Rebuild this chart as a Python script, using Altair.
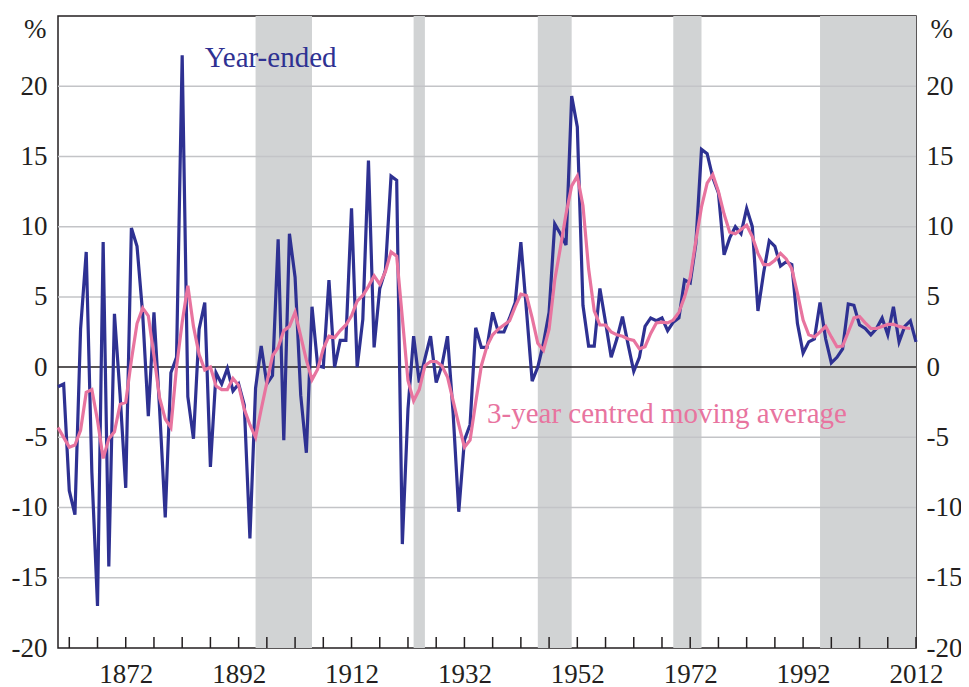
import altair as alt
import pandas as pd

# ---------------- data ----------------
years = list(range(1860, 2013))
year_ended = [
    -1.4, -1.2, -8.8, -10.5, 2.7, 8.2, -7.5, -17.0, 8.9, -14.2,      # 1860-69
    3.8, -2.0, -8.6, 9.9, 8.6, 3.8, -3.5, 3.9, -3.0, -10.7,          # 1870-79
    -0.4, 0.7, 22.2, -2.1, -5.1, 2.7, 4.6, -7.1, -0.4, -1.2,         # 1880-89
    -0.1, -1.7, -1.2, -2.7, -12.2, -1.5, 1.5, -1.2, -0.6, 9.1,       # 1890-99
    -5.2, 9.5, 6.4, -2.0, -6.1, 4.3, 0.1, 0.0, 6.2, 0.0,             # 1900-09
    1.9, 1.9, 11.3, 0.0, 3.4, 14.7, 1.4, 5.6, 6.9, 13.6,             # 1910-19
    13.3, -12.6, -3.0, 2.2, -1.1, 0.6, 2.2, -1.1, 0.1, 2.2,          # 1920-29
    -3.3, -10.3, -5.2, -4.1, 2.8, 1.4, 1.4, 3.9, 2.5, 2.5,           # 1930-39
    3.5, 4.6, 8.9, 4.0, -1.0, 0.0, 1.7, 3.9, 10.2, 9.5,              # 1940-49
    8.7, 19.3, 17.1, 4.4, 1.5, 1.5, 5.6, 3.2, 0.7, 2.0,              # 1950-59
    3.6, 1.6, -0.3, 0.7, 2.9, 3.5, 3.3, 3.5, 2.6, 3.2,               # 1960-69
    3.5, 6.2, 6.0, 8.8, 15.5, 15.2, 13.5, 12.4, 8.0, 9.2,            # 1970-79
    10.0, 9.5, 11.3, 10.0, 4.0, 6.7, 9.0, 8.6, 7.2, 7.5,             # 1980-89
    7.3, 3.1, 1.0, 1.8, 2.0, 4.6, 2.0, 0.3, 0.7, 1.3,                # 1990-99
    4.5, 4.4, 3.0, 2.75, 2.3, 2.75, 3.5, 2.3, 4.3, 1.8,              # 2000-09
    2.9, 3.3, 1.8,                                                   # 2010-12
]
ma_years = list(range(1860, 2012))
moving_avg = [
    -4.3, -5.0, -5.7, -5.55, -4.5, -1.8, -1.6, -3.8, -6.5, -5.1,     # 1860-69
    -4.6, -2.65, -2.5, 0.5, 3.1, 4.2, 3.65, 0.8, -2.2, -3.7,         # 1870-79
    -4.3, 0.0, 3.2, 5.8, 2.9, 0.9, -0.2, 0.0, -1.35, -1.6,           # 1880-89
    -1.6, -0.8, -1.3, -3.0, -4.1, -5.0, -3.0, -1.1, 0.8, 1.4,        # 1890-99
    2.6, 2.9, 3.9, 2.2, 0.5, -0.9, -0.15, 1.3, 2.2, 2.1,             # 1900-09
    2.6, 3.0, 3.65, 4.7, 5.1, 5.75, 6.5, 5.9, 6.8, 8.2,              # 1910-19
    7.9, 3.5, -0.95, -2.4, -1.6, 0.1, 0.4, 0.4, 0.1, -0.7,           # 1920-29
    -2.4, -4.1, -5.7, -5.2, -2.5, 0.1, 1.5, 2.3, 2.7, 3.0,           # 1930-39
    3.3, 4.3, 5.2, 5.1, 3.5, 1.7, 1.2, 2.7, 6.2, 8.5,                # 1940-49
    10.9, 12.9, 13.6, 11.5, 7.0, 4.0, 3.0, 3.0, 2.5, 2.3,            # 1950-59
    2.2, 2.0, 1.9, 1.3, 1.45, 2.4, 3.15, 3.2, 3.15, 3.35,            # 1960-69
    3.9, 5.0, 6.4, 9.0, 11.4, 13.1, 13.7, 12.5, 10.9, 9.6,           # 1970-79
    9.5, 9.8, 10.1, 9.3, 8.1, 7.3, 7.3, 7.6, 8.1, 7.7,               # 1980-89
    7.0, 5.25, 3.35, 2.3, 2.15, 2.5, 2.9, 2.15, 1.45, 1.5,           # 1990-99
    2.5, 3.5, 3.6, 3.15, 2.75, 2.75, 2.9, 3.05, 3.05, 2.9,           # 2000-09
    2.8, 2.75,                                                       # 2010-11
]
band_start = [1895, 1923, 1945, 1969, 1995]
band_end = [1905, 1925, 1951, 1974, 2012]
x_labels = [1872, 1892, 1912, 1932, 1952, 1972, 1992, 2012]
minor_ticks = list(range(1862, 2013, 5))
y_ticks = [-20, -15, -10, -5, 0, 5, 10, 15, 20]
grid_values = [-15, -10, -5, 5, 10, 15, 20]
annot_text = ["Year-ended", "3-year centred moving average"]
annot_x = [1886, 1936]
annot_y = [21.4, -4.0]

# ---------------- styling ----------------
W, H = 858, 632
FONT = "Liberation Serif"
BLUE = "#2e3192"
PINK = "#e8749f"
DARK = "#231f20"
BAND = "#d1d3d4"
GRID = "#c3c4c7"

xs = alt.Scale(domain=[1860, 2012], nice=False, zero=False)
ys = alt.Scale(domain=[-20, 25], nice=False, zero=False)

x_axis = alt.Axis(
    values=x_labels, format="d", ticks=False, domain=False, grid=False,
    labelFont=FONT, labelFontSize=27, labelColor=DARK, labelPadding=13,
    labelFlush=False, labelOverlap=False, title=None,
)

series_df = pd.DataFrame({"year": years, "value": year_ended})
ma_df = pd.DataFrame({"year": ma_years, "value": moving_avg})
band_df = pd.DataFrame({"start": band_start, "end": band_end})
tick_df = pd.DataFrame({"year": minor_ticks})
grid_df = pd.DataFrame({"v": grid_values})
zero_df = pd.DataFrame({"v": [0]})
blue_txt = pd.DataFrame({"x": annot_x[:1], "y": annot_y[:1], "t": annot_text[:1]})
pink_txt = pd.DataFrame({"x": annot_x[1:], "y": annot_y[1:], "t": annot_text[1:]})

bands = alt.Chart(band_df).mark_rect(color=BAND).encode(
    x=alt.X("start:Q", scale=xs, axis=x_axis),
    x2="end:Q",
)

grid = alt.Chart(grid_df).mark_rule(color=GRID, strokeWidth=1.5).encode(
    y=alt.Y("v:Q", scale=ys, axis=None)
)

zero = alt.Chart(zero_df).mark_rule(color=DARK, strokeWidth=1.5).encode(
    y=alt.Y("v:Q", scale=ys, axis=None)
)

ticks = alt.Chart(tick_df).mark_rule(color=DARK, strokeWidth=1.5).encode(
    x=alt.X("year:Q", scale=xs, axis=x_axis),
    y=alt.value(H),
    y2=alt.value(H - 11),
)

blue = alt.Chart(series_df).mark_line(color=BLUE, strokeWidth=3.2).encode(
    x=alt.X("year:Q", scale=xs, axis=x_axis),
    y=alt.Y("value:Q", scale=ys, axis=alt.Axis(
        orient="left", values=y_ticks, ticks=False, domain=False, grid=False,
        labelFont=FONT, labelFontSize=27, labelColor=DARK, labelPadding=11,
        labelExpr="'' + datum.value",
        title="%", titleAngle=0, titleAlign="right", titleBaseline="middle",
        titleX=-12, titleY=13, titleFont=FONT, titleFontSize=27,
        titleFontWeight="normal", titleColor=DARK)),
)

pink = alt.Chart(ma_df).mark_line(color=PINK, strokeWidth=3.2).encode(
    x=alt.X("year:Q", scale=xs, axis=x_axis),
    y=alt.Y("value:Q", scale=ys, axis=alt.Axis(
        orient="right", values=y_ticks, ticks=False, domain=False, grid=False,
        labelFont=FONT, labelFontSize=27, labelColor=DARK, labelPadding=10,
        labelExpr="'' + datum.value",
        title="%", titleAngle=0, titleAlign="left", titleBaseline="middle",
        titleX=14, titleY=13, titleFont=FONT, titleFontSize=27,
        titleFontWeight="normal", titleColor=DARK)),
)

t_blue = alt.Chart(blue_txt).mark_text(
    font=FONT, fontSize=29, color=BLUE, align="left", baseline="alphabetic"
).encode(
    x=alt.X("x:Q", scale=xs, axis=x_axis),
    y=alt.Y("y:Q", scale=ys, axis=None),
    text="t:N",
)
t_pink = alt.Chart(pink_txt).mark_text(
    font=FONT, fontSize=29, color=PINK, align="left", baseline="alphabetic"
).encode(
    x=alt.X("x:Q", scale=xs, axis=x_axis),
    y=alt.Y("y:Q", scale=ys, axis=None),
    text="t:N",
)

chart = alt.layer(bands, grid, zero, ticks, blue, pink, t_blue, t_pink).resolve_scale(
    y="independent"
).properties(
    width=W, height=H,
    autosize=alt.AutoSizeParams(type="none"),
    padding={"left": 50, "top": 8, "right": 45, "bottom": 40},
    background="white",
).configure_view(stroke=DARK, strokeWidth=1.5)

chart.save("out.html", embed_options={"renderer": "svg", "actions": False})
